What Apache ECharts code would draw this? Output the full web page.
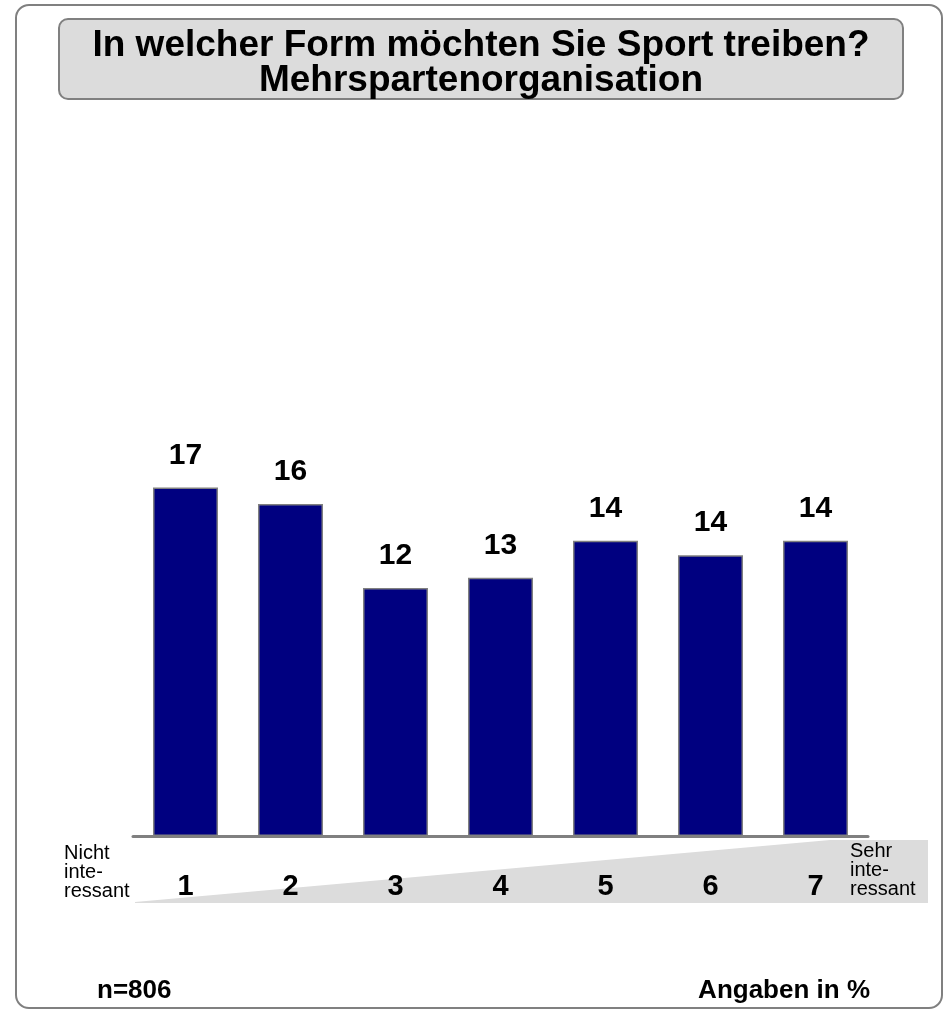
<!DOCTYPE html>
<html>
<head>
<meta charset="utf-8">
<script src="https://cdn.jsdelivr.net/npm/echarts@6/dist/echarts.min.js"></script>
<style>
html,body{margin:0;padding:0;background:#fff;}
#chart{width:948px;height:1011px;}
</style>
</head>
<body>
<div id="chart"></div>
<script>
const categories = ['1', '2', '3', '4', '5', '6', '7'];
const values = [17.0, 16.2, 12.1, 12.6, 14.4, 13.7, 14.4];
const titleLines = ['In welcher Form möchten Sie Sport treiben?', 'Mehrspartenorganisation'];
const leftNote = ['Nicht', 'inte-', 'ressant'];
const rightNote = ['Sehr', 'inte-', 'ressant'];
const sampleText = 'n=806';
const unitText = 'Angaben in %';

const FONT = '"Liberation Sans", Arial, Helvetica, sans-serif';
const chart = echarts.init(document.getElementById('chart'), null, {renderer: 'canvas'});

chart.setOption({
  backgroundColor: '#ffffff',
  animation: false,
  graphic: [
    {type: 'rect', z: -20, shape: {x: 16, y: 5, width: 926, height: 1003, r: 13},
     style: {fill: '#ffffff', stroke: '#808080', lineWidth: 2}},
    {type: 'rect', z: -10, shape: {x: 59, y: 19, width: 844, height: 80, r: 9},
     style: {fill: '#dcdcdc', stroke: '#808080', lineWidth: 2}},
    {type: 'text', z: 5, x: 481, y: 28,
     style: {text: titleLines.join('\n'), fill: '#000', font: 'bold 37px ' + FONT,
             textAlign: 'center', textVerticalAlign: 'top', lineHeight: 35}},
    {type: 'polygon', z: -5,
     shape: {points: [[135, 902], [830, 840], [928, 840], [928, 903], [135, 903]]},
     style: {fill: '#dcdcdc'}},
    {type: 'text', z: 5, x: 64, y: 844,
     style: {text: leftNote.join('\n'), fill: '#000', font: '20px ' + FONT,
             textAlign: 'left', textVerticalAlign: 'top', lineHeight: 19}},
    {type: 'text', z: 5, x: 850, y: 842,
     style: {text: rightNote.join('\n'), fill: '#000', font: '20px ' + FONT,
             textAlign: 'left', textVerticalAlign: 'top', lineHeight: 19}},
    {type: 'text', z: 5, x: 97, y: 978,
     style: {text: sampleText, fill: '#000', font: 'bold 26px ' + FONT,
             textAlign: 'left', textVerticalAlign: 'top'}},
    {type: 'text', z: 5, x: 870, y: 978,
     style: {text: unitText, fill: '#000', font: 'bold 26px ' + FONT,
             textAlign: 'right', textVerticalAlign: 'top'}}
  ],
  grid: {left: 133, right: 80, top: 426, bottom: 175, containLabel: false},
  xAxis: {
    type: 'category',
    data: categories,
    axisLine: {show: true, lineStyle: {color: '#808080', width: 3}},
    axisTick: {show: false},
    axisLabel: {margin: 36, color: '#000', fontSize: 29, fontWeight: 'bold', fontFamily: FONT}
  },
  yAxis: {
    type: 'value', min: 0, max: 20, show: false,
    splitLine: {show: false}
  },
  series: [{
    type: 'bar',
    data: values,
    barWidth: 65,
    itemStyle: {color: '#000080', borderColor: '#808080', borderWidth: 1.5},
    label: {
      show: true, position: 'top', distance: 17,
      color: '#000', fontSize: 30, fontWeight: 'bold', fontFamily: FONT,
      formatter: p => String(Math.round(p.value))
    }
  }]
});
</script>
</body>
</html>
